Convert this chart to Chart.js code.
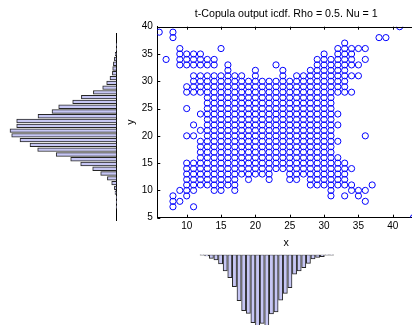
<!DOCTYPE html>
<html>
<head>
<meta charset="utf-8">
<script src="https://cdn.jsdelivr.net/npm/chart.js@4"></script>
<style>
  html, body { margin: 0; padding: 0; background: #fff; }
  body { width: 412px; height: 325px; overflow: hidden; position: relative; }
  .box { position: absolute; }
</style>
</head>
<body>
<div class="box" style="left:100px;top:0;width:330px;height:265px"><canvas id="scatter"></canvas></div>
<div class="box" style="left:0;top:0;width:125px;height:240px"><canvas id="histY"></canvas></div>
<div class="box" style="left:150px;top:240px;width:230px;height:100px"><canvas id="histX"></canvas></div>
<script>
// scatter: one x value per column, then the runs of y values present in that column
const scatterX = [6, 7, 8, 9, 10, 11, 12, 13, 14, 15, 16, 17, 18, 19, 20, 21, 22, 23, 24,
  25, 26, 27, 28, 29, 30, 31, 32, 33, 34, 35, 36, 37, 38, 39, 41, 43];
const scatterYRuns = [
  [[39, 39]],
  [[34, 34]],
  [[7, 9], [38, 39]],
  [[8, 8], [10, 10], [33, 36]],
  [[9, 15], [20, 20], [25, 25], [28, 29], [33, 35]],
  [[7, 7], [10, 15], [20, 20], [22, 22], [28, 31], [33, 35]],
  [[11, 19], [21, 21], [24, 24], [28, 31], [33, 35]],
  [[11, 31], [33, 34]],
  [[10, 31], [33, 34]],
  [[10, 31], [36, 36]],
  [[11, 33]],
  [[10, 31]],
  [[13, 31]],
  [[12, 30]],
  [[13, 32]],
  [[13, 30]],
  [[12, 30]],
  [[14, 30], [33, 33]],
  [[14, 32]],
  [[12, 30]],
  [[12, 31]],
  [[13, 31]],
  [[11, 32]],
  [[11, 34]],
  [[11, 35]],
  [[9, 34]],
  [[11, 16], [19, 19], [22, 22], [24, 24], [28, 36]],
  [[9, 9], [11, 15], [28, 37]],
  [[10, 11], [14, 14], [28, 28], [31, 31], [33, 36]],
  [[9, 10], [31, 31], [33, 33], [36, 36]],
  [[8, 8], [10, 10], [20, 20], [34, 34], [36, 36]],
  [[11, 11]],
  [[38, 38]],
  [[38, 38]],
  [[40, 40]],
  [[5, 5]]
];

const xTicks = [10, 15, 20, 25, 30, 35, 40];
const yTicks = [5, 10, 15, 20, 25, 30, 35, 40];

// histogram of y (left), bin centres and bar lengths
const yBins = [5, 6, 7, 8, 9, 10, 11, 12, 13, 14, 15, 16, 17, 18, 19, 20, 21, 22,
  23, 24, 25, 26, 27, 28, 29, 30, 31, 32, 33, 34, 35, 36, 37, 38, 39];
const yCounts = [0, 0, 0, 1.7, 2.3, 5, 9.3, 16, 24, 36, 46, 60.5, 79, 86.7, 96.7, 105, 106.7, 100,
  100, 78.7, 64.7, 58, 44, 35.3, 23.3, 14, 10, 6.7, 4.3, 4, 3.3, 2.3, 1.5, 0, 0];

// histogram of x (bottom)
const xBins = [7, 8, 9, 10, 11, 12, 13, 14, 15, 16, 17, 18, 19, 20, 21, 22, 23, 24,
  25, 26, 27, 28, 29, 30, 31, 32, 33, 34, 35];
const xCounts = [0, 1.3, 3.7, 5.3, 9.3, 16.3, 23, 32, 46, 56, 58.7, 68, 76, 68.7, 76, 59.3, 57.3, 45.5,
  38.7, 33, 19.5, 16.3, 13, 8.7, 4.3, 2.7, 2, 0, 0];

Chart.defaults.font.family = '"Liberation Sans", Arial, sans-serif';
Chart.defaults.color = '#000';
Chart.defaults.animation = false;
Chart.defaults.events = [];

const points = [];
scatterX.forEach((x, i) => {
  scatterYRuns[i].forEach(([a, b]) => {
    for (let y = a; y <= b; y++) points.push({ x: x, y: y });
  });
});

// matlab style box: top line and ticks pointing inwards
const inwardTicks = {
  id: 'inwardTicks',
  afterDraw(chart) {
    const { ctx, chartArea: a, scales } = chart;
    const sx = scales.x, sy = scales.y;
    ctx.save();
    ctx.strokeStyle = '#000';
    ctx.lineWidth = 1;
    ctx.beginPath();
    const top = Math.round(a.top) + 0.5;
    ctx.moveTo(a.left, top);
    ctx.lineTo(a.right, top);
    sx.ticks.forEach(t => {
      const px = Math.round(sx.getPixelForValue(t.value)) + 0.5;
      ctx.moveTo(px, a.bottom);
      ctx.lineTo(px, a.bottom - 3);
      ctx.moveTo(px, a.top);
      ctx.lineTo(px, a.top + 3);
    });
    sy.ticks.forEach(t => {
      const py = Math.round(sy.getPixelForValue(t.value)) + 0.5;
      ctx.moveTo(a.left, py);
      ctx.lineTo(a.left + 3, py);
    });
    ctx.stroke();
    ctx.restore();
  }
};

const tickFont = { size: 10 };
const noGrid = { display: false, drawTicks: false, tickLength: 0 };
const axisLine = { display: true, color: '#000', width: 1 };

new Chart(document.getElementById('scatter'), {
  type: 'scatter',
  data: {
    datasets: [{
      data: points,
      pointStyle: 'circle',
      pointRadius: 3.1,
      borderWidth: 1,
      borderColor: '#0000ff',
      backgroundColor: 'rgba(0,0,0,0)'
    }]
  },
  options: {
    responsive: true,
    maintainAspectRatio: false,
    layout: { padding: { left: 0, top: 0, right: 14.9, bottom: 0 } },
    plugins: {
      legend: { display: false },
      tooltip: { enabled: false },
      title: {
        display: true,
        text: 't-Copula output icdf. Rho = 0.5. Nu = 1',
        fullSize: false,
        color: '#000',
        font: { size: 10.7, weight: 'normal' },
        padding: { top: 7.6, bottom: 6.26 }
      }
    },
    scales: {
      x: {
        type: 'linear',
        min: 5.72,
        max: 43.25,
        afterBuildTicks: s => { s.ticks = xTicks.map(v => ({ value: v })); },
        afterFit: s => { s.height = 47.3; },
        grid: noGrid,
        border: axisLine,
        ticks: { padding: 3, font: tickFont, maxRotation: 0, autoSkip: false },
        title: { display: true, text: 'x', font: { size: 10.7 }, padding: { top: 0, bottom: 16 } }
      },
      y: {
        type: 'linear',
        min: 5,
        max: 40,
        afterBuildTicks: s => { s.ticks = yTicks.map(v => ({ value: v })); },
        afterFit: s => { s.width = 57.3; },
        grid: noGrid,
        border: axisLine,
        ticks: { padding: 4.5, font: tickFont, autoSkip: false },
        title: { display: true, text: 'y', font: { size: 10.7 }, padding: { top: 25, bottom: 0 } }
      }
    }
  },
  plugins: [inwardTicks]
});

const barFill = 'rgb(198,198,244)';
const barEdge = '#262626';

// left histogram, bars grow to the left
new Chart(document.getElementById('histY'), {
  type: 'bar',
  data: {
    datasets: [{
      data: yBins.map((b, i) => ({ x: yCounts[i], y: b })),
      backgroundColor: barFill,
      borderColor: barEdge,
      borderWidth: 1,
      borderSkipped: false,
      barThickness: 3.7,
      minBarLength: 1
    }]
  },
  options: {
    indexAxis: 'y',
    responsive: true,
    maintainAspectRatio: false,
    layout: { padding: { left: 0, top: 33, right: 8.3, bottom: 20 } },
    plugins: { legend: { display: false }, tooltip: { enabled: false } },
    scales: {
      x: { type: 'linear', reverse: true, min: 0, max: 116.7, display: false },
      y: {
        type: 'linear',
        position: 'right',
        min: 4.72,
        max: 38.99,
        afterFit: s => { s.width = 0; },
        grid: noGrid,
        border: axisLine,
        ticks: { display: false }
      }
    }
  }
});

// bottom histogram, bars hang down
new Chart(document.getElementById('histX'), {
  type: 'bar',
  data: {
    datasets: [{
      data: xBins.map((b, i) => ({ x: b, y: xCounts[i] })),
      backgroundColor: barFill,
      borderColor: barEdge,
      borderWidth: 1,
      borderSkipped: false,
      barThickness: 4.2,
      minBarLength: 1
    }]
  },
  options: {
    responsive: true,
    maintainAspectRatio: false,
    layout: { padding: { left: 16.3, top: 14.7, right: 12.7, bottom: 0 } },
    plugins: { legend: { display: false }, tooltip: { enabled: false } },
    scales: {
      x: {
        type: 'linear',
        position: 'top',
        min: 6.5,
        max: 35.5,
        afterFit: s => { s.height = 0; },
        grid: noGrid,
        border: { display: false },
        ticks: { display: false }
      },
      y: { type: 'linear', reverse: true, min: 0, max: 85.3, display: false }
    }
  }
});
</script>
</body>
</html>
